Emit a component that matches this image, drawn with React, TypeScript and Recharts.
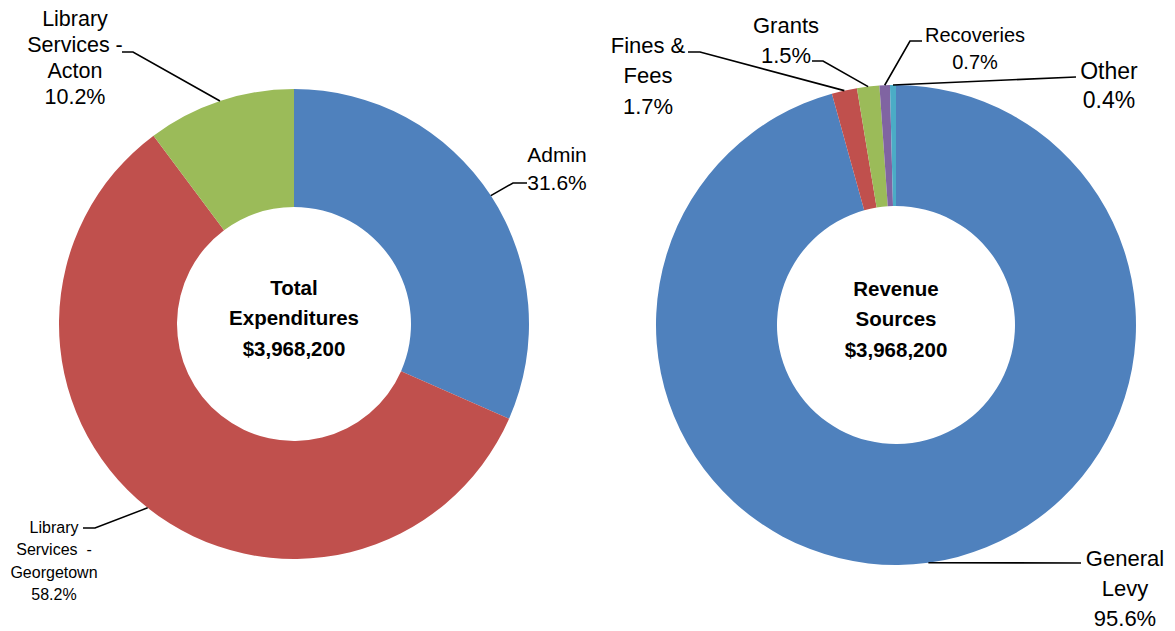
import { Pie, PieChart, Cell } from 'recharts';

const expenseNames = ['Admin', 'Library Services - Georgetown', 'Library Services - Acton'];
const expenseShares = [31.6, 58.2, 10.2];
const expenseColors = ['#4F81BD', '#C0504D', '#9BBB59'];

const revenueNames = ['General Levy', 'Fines & Fees', 'Grants', 'Recoveries', 'Other'];
const revenueShares = [95.6, 1.7, 1.5, 0.7, 0.4];
const revenueColors = ['#4F81BD', '#C0504D', '#9BBB59', '#8064A2', '#4BACC6'];

const expenseTitle = ['Total', 'Expenditures', '$3,968,200'];
const revenueTitle = ['Revenue', 'Sources', '$3,968,200'];

const FONT = '"Liberation Sans", Arial, sans-serif';

// where each data label sits (text block + leader line bends)
interface LabelSpot {
    lines: string[];
    x: number;
    y: number;
    lh: number;
    fs: number;
    elbow: [number, number];
    end: [number, number];
}

const labelSpots: Record<string, LabelSpot> = {
    Admin: { lines: ['Admin'], x: 557, y: 154, lh: 28, fs: 21, elbow: [513, 183], end: [527, 183] },
    'Library Services - Georgetown': {
        lines: ['Library', 'Services  -', 'Georgetown'],
        x: 54, y: 527, lh: 22.5, fs: 16, elbow: [95, 528], end: [83, 528],
    },
    'Library Services - Acton': {
        lines: ['Library', 'Services -', 'Acton'],
        x: 75, y: 19, lh: 26, fs: 21.5, elbow: [133, 52], end: [122, 52],
    },
    'General Levy': { lines: ['General', 'Levy'], x: 1125, y: 558, lh: 30, fs: 22, elbow: [1081, 563], end: [1081, 563] },
    'Fines & Fees': { lines: ['Fines &', 'Fees'], x: 648, y: 45, lh: 30.5, fs: 22, elbow: [700, 52], end: [688, 52] },
    Grants: { lines: ['Grants'], x: 786, y: 25, lh: 30, fs: 22, elbow: [823, 61], end: [812, 61] },
    Recoveries: { lines: ['Recoveries'], x: 975, y: 35, lh: 27, fs: 20, elbow: [910, 41], end: [922, 41] },
    Other: { lines: ['Other'], x: 1109, y: 71, lh: 29, fs: 23, elbow: [1076, 77], end: [1076, 77] },
};

const RAD = Math.PI / 180;

const makeLabel = (title: string[]) => (props: any) => {
    const { cx, cy, midAngle, outerRadius, name, value, index } = props;
    const spot = labelSpots[name];
    if (!spot) return null;
    const sx = cx + outerRadius * Math.cos(-midAngle * RAD);
    const sy = cy + outerRadius * Math.sin(-midAngle * RAD);
    const lines = [...spot.lines, `${value.toFixed(1)}%`];
    return (
        <g key={`lbl-${name}`}>
            <polyline
                points={`${sx},${sy} ${spot.elbow[0]},${spot.elbow[1]} ${spot.end[0]},${spot.end[1]}`}
                fill="none"
                stroke="#000"
                strokeWidth={1.6}
            />
            {lines.map((t, i) => (
                <text
                    key={i}
                    x={spot.x}
                    y={spot.y + i * spot.lh}
                    textAnchor="middle"
                    dominantBaseline="central"
                    fontFamily={FONT}
                    fontSize={spot.fs}
                    fill="#000"
                    style={{ whiteSpace: 'pre' }}
                >
                    {t}
                </text>
            ))}
            {/* hole title, drawn once per pie */}
            {index === 0 &&
                title.map((t, i) => (
                    <text
                        key={`t-${i}`}
                        x={cx}
                        y={cy - 37 + i * 30.5}
                        textAnchor="middle"
                        dominantBaseline="central"
                        fontFamily={FONT}
                        fontWeight="bold"
                        fontSize={20.5}
                        fill="#000"
                    >
                        {t}
                    </text>
                ))}
        </g>
    );
};

const expenseData = expenseNames.map((name, i) => ({ name, value: expenseShares[i] }));
const revenueData = revenueNames.map((name, i) => ({ name, value: revenueShares[i] }));

export default function App() {
    return (
        <div style={{ position: 'absolute', left: 0, top: 0, width: 1175, height: 631, background: '#fff' }}>
            <PieChart width={1175} height={631} margin={{ top: 0, right: 0, bottom: 0, left: 0 }}>
                <Pie
                    data={expenseData}
                    dataKey="value"
                    nameKey="name"
                    cx={294}
                    cy={324}
                    innerRadius={117}
                    outerRadius={235}
                    startAngle={90}
                    endAngle={-270}
                    stroke="none"
                    label={makeLabel(expenseTitle)}
                    labelLine={false}
                    isAnimationActive={false}
                >
                    {expenseData.map((d, i) => (
                        <Cell key={`e-${i}`} fill={expenseColors[i]} />
                    ))}
                </Pie>
                <Pie
                    data={revenueData}
                    dataKey="value"
                    nameKey="name"
                    cx={896}
                    cy={325}
                    innerRadius={119}
                    outerRadius={240}
                    startAngle={90}
                    endAngle={-270}
                    stroke="none"
                    label={makeLabel(revenueTitle)}
                    labelLine={false}
                    isAnimationActive={false}
                >
                    {revenueData.map((d, i) => (
                        <Cell key={`r-${i}`} fill={revenueColors[i]} />
                    ))}
                </Pie>
            </PieChart>
        </div>
    );
}
